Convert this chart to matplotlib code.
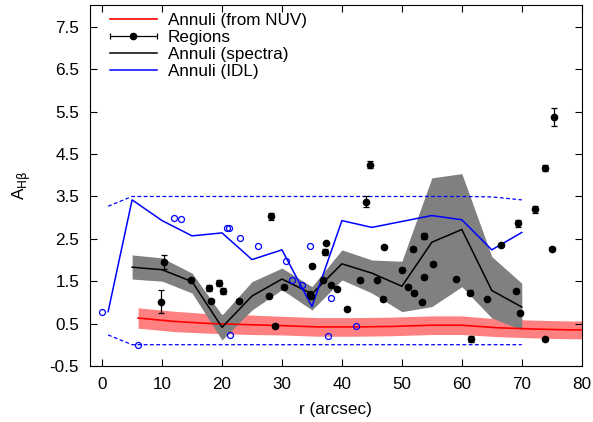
import numpy as np
from matplotlib import pyplot as plt
from matplotlib.container import ErrorbarContainer
from matplotlib.legend_handler import HandlerErrorbar

plt.rcParams['font.family'] = ['Liberation Sans', 'DejaVu Sans']

# Annuli (from NUV): red line with band
nuv_r = [6, 12, 18, 25, 30, 36, 42, 48, 55, 60, 66, 72, 78, 80]
nuv_a = [0.63, 0.55, 0.50, 0.47, 0.45, 0.42, 0.42, 0.43, 0.46, 0.46, 0.40, 0.37, 0.35, 0.35]
nuv_err = [0.24, 0.24, 0.23, 0.23, 0.22, 0.22, 0.22, 0.22, 0.22, 0.22, 0.21, 0.21, 0.21, 0.21]

# Annuli (spectra): black line with gray band
spec_r = [5, 10, 15, 20, 25, 30, 35, 40, 45, 50, 55, 60, 65, 70]
spec_a = [1.83, 1.77, 1.49, 0.41, 1.15, 1.55, 1.20, 1.91, 1.69, 1.38, 2.42, 2.72, 1.28, 0.89]
spec_lo = [1.55, 1.50, 1.22, 0.11, 0.82, 1.30, 0.82, 1.53, 1.22, 0.78, 0.90, 1.37, 0.63, 0.35]
spec_hi = [2.12, 2.05, 1.69, 0.70, 1.49, 1.81, 1.37, 2.24, 2.00, 1.97, 3.94, 4.04, 2.08, 1.45]

# Annuli (IDL): blue line and dashed limits
idl_r = [1, 5, 10, 15, 20, 25, 30, 35, 40, 45, 50, 55, 60, 65, 70]
idl_a = [0.78, 3.42, 2.93, 2.57, 2.64, 2.01, 2.24, 0.90, 2.93, 2.77, 2.91, 3.05, 2.95, 2.24, 2.65]
idl_up = [3.27, 3.50, 3.50, 3.50, 3.50, 3.50, 3.50, 3.50, 3.50, 3.50, 3.50, 3.50, 3.50, 3.49, 3.42]
idl_dn = [0.23, 0.00, 0.00, 0.00, 0.00, 0.00, 0.00, 0.00, 0.00, 0.00, 0.00, 0.00, 0.00, 0.00, 0.00]

# IDL individual values (open circles)
circ_r = [0.0, 6.0, 12.0, 13.2, 20.8, 21.1, 23.0, 26.0, 21.4, 30.7, 31.6, 33.3, 34.6, 38.1, 37.6, 42.3]
circ_a = [0.77, 0.00, 2.99, 2.97, 2.75, 2.75, 2.53, 2.32, 0.22, 1.97, 1.53, 1.41, 2.32, 1.11, 0.21, 0.43]

# Regions (points with error bars)
reg_r = [10.3, 9.8, 14.8, 17.9, 19.5, 20.2, 18.1, 22.9, 28.1, 30.4, 27.9, 28.8, 44.0, 44.7,
         37.4, 37.1, 35.0, 34.6, 34.8, 36.8, 38.1, 39.1, 40.8, 43.0, 45.9, 46.9, 47.05,
         50.1, 51.0, 52.0, 51.9, 53.7, 53.7, 53.4, 55.2, 59.1, 61.3, 61.6, 64.2, 66.6,
         69.4, 69.05, 69.7, 72.2, 73.8, 75.3, 75.1, 73.9]
reg_a = [1.95, 1.02, 1.53, 1.34, 1.46, 1.26, 1.04, 1.04, 3.03, 1.37, 1.16, 0.45, 3.38, 4.25,
         2.40, 2.19, 1.87, 1.19, 1.14, 1.52, 1.41, 1.32, 0.85, 1.52, 1.53, 1.08, 2.31,
         1.77, 1.37, 1.23, 2.26, 2.57, 1.59, 1.00, 1.91, 1.55, 1.23, 0.14, 1.08, 2.36,
         2.87, 1.27, 0.76, 3.20, 4.17, 5.38, 2.27, 0.14]
reg_err = [0.17, 0.28, 0.05, 0.07, 0.07, 0.07, 0.04, 0.04, 0.08, 0.03, 0.03, 0.03, 0.12, 0.08,
           0.03, 0.08, 0.03, 0.03, 0.03, 0.03, 0.03, 0.03, 0.03, 0.03, 0.03, 0.03, 0.03,
           0.03, 0.03, 0.03, 0.05, 0.07, 0.03, 0.03, 0.05, 0.03, 0.05, 0.07, 0.03, 0.03,
           0.08, 0.03, 0.03, 0.08, 0.07, 0.22, 0.03, 0.03]

y_ticks = [-0.5, 0.5, 1.5, 2.5, 3.5, 4.5, 5.5, 6.5, 7.5]
x_ticks = [0, 10, 20, 30, 40, 50, 60, 70, 80]

fs = 12.3

figure = plt.figure(figsize=(5.93, 4.22), dpi=100)
axis = figure.add_axes([0.152, 0.133, 0.829, 0.855])

nuv_a = np.array(nuv_a)
nuv_err = np.array(nuv_err)
axis.fill_between(nuv_r, nuv_a - nuv_err, nuv_a + nuv_err, color='#ff8080', lw=0, zorder=1)
nuv_line, = axis.plot(nuv_r, nuv_a, color='red', lw=1.2, zorder=2)

axis.fill_between(spec_r, spec_lo, spec_hi, color='#808080', lw=0, zorder=1)

axis.errorbar(reg_r, reg_a, yerr=reg_err, fmt='o', color='black', ms=4.5, capsize=2.5,
              elinewidth=0.9, capthick=0.9, zorder=4)
# legend proxy: horizontal bar with caps
reg_proxy = axis.errorbar([np.nan], [np.nan], xerr=[1], fmt='o', color='black', ms=4.5,
                          capsize=2.5, elinewidth=0.9, capthick=0.9)

spec_line, = axis.plot(spec_r, spec_a, color='black', lw=1.1, zorder=3)
idl_line, = axis.plot(idl_r, idl_a, color='blue', lw=1.1, zorder=3)
axis.plot(idl_r, idl_up, color='blue', lw=0.9, ls=(0, (3, 2)), zorder=3)
axis.plot(idl_r, idl_dn, color='blue', lw=0.9, ls=(0, (3, 2)), zorder=3)
axis.plot(circ_r, circ_a, 'o', mfc='none', mec='blue', ms=4.3, mew=0.9, zorder=4)

axis.set_xlim(-2, 80)
axis.set_ylim(-0.5, 8.02)
axis.set_xticks(x_ticks)
axis.set_yticks(y_ticks)
axis.set_yticklabels([str(v) for v in y_ticks])
axis.tick_params(direction='in', top=True, right=True, length=5, labelsize=fs, pad=8)
axis.set_xlabel('r (arcsec)', fontsize=fs, labelpad=7)
axis.set_ylabel(r'A$_{\rm H\beta}$', fontsize=fs, labelpad=12)

axis.legend([nuv_line, reg_proxy, spec_line, idl_line],
            ['Annuli (from NUV)', 'Regions', 'Annuli (spectra)', 'Annuli (IDL)'],
            loc='upper left', frameon=False, fontsize=fs, handlelength=2.75,
            handletextpad=0.63, labelspacing=0.12, borderaxespad=0, borderpad=0,
            bbox_to_anchor=(0.04, 0.978),
            handler_map={ErrorbarContainer: HandlerErrorbar(xerr_size=1.37)})

plt.savefig('out.png', dpi=100)
